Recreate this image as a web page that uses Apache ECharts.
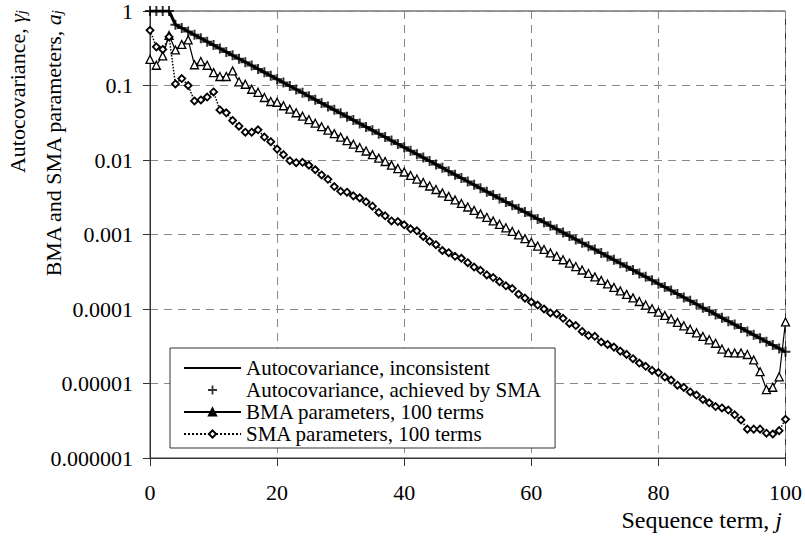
<!DOCTYPE html>
<html>
<head>
<meta charset="utf-8">
<script src="https://cdn.jsdelivr.net/npm/echarts@6/dist/echarts.min.js"></script>
<style>
  html, body { margin: 0; padding: 0; background: #fff; }
  #chart { width: 805px; height: 539px; }
</style>
</head>
<body>
<div id="chart"></div>
<script>
// Sequence terms j = 0..100
const terms = Array.from({ length: 101 }, (_, j) => j);

// Autocovariance (inconsistent target), gamma_j
const acvTarget = [
  1, 1, 1, 1, 0.6561, 0.5905, 0.5314, 0.4783, 0.4305, 0.3874,
  0.3487, 0.3138, 0.2824, 0.2542, 0.2288, 0.2059, 0.1853, 0.1668, 0.1501, 0.1351,
  0.1216, 0.1094, 0.0985, 0.0886, 0.0798, 0.0718, 0.0646, 0.0581, 0.0523, 0.0471,
  0.0424, 0.0382, 0.0343, 0.0309, 0.0278, 0.0250, 0.0225, 0.0203, 0.0182, 0.0164,
  0.01478, 0.01330, 0.01197, 0.01078, 0.00970, 0.00873, 0.00786, 0.00707, 0.00636, 0.00573,
  0.00515, 0.00464, 0.00417, 0.00376, 0.00338, 0.00304, 0.00274, 0.00247, 0.00222, 0.00200,
  0.00180, 0.00162, 0.00146, 0.00131, 0.00118, 0.00106, 0.000955, 0.000860, 0.000774, 0.000696,
  0.000627, 0.000564, 0.000508, 0.000457, 0.000411, 0.000370, 0.000333, 0.000300, 0.000270, 0.000243,
  0.000218, 0.000197, 0.000177, 0.000159, 0.000143, 0.000129, 0.000116, 0.000104, 0.0000940, 0.0000846,
  0.0000761, 0.0000685, 0.0000617, 0.0000555, 0.0000500, 0.0000450, 0.0000405, 0.0000364, 0.0000328, 0.0000295,
  0.0000266
];

// Autocovariance achieved by SMA (coincides with the target at this scale)
const acvSma = acvTarget;

// BMA parameters, 100 terms
const bmaParams = [
  0.224, 0.187, 0.25, 0.47, 0.30, 0.356, 0.41, 0.19, 0.21, 0.187,
  0.149, 0.132, 0.132, 0.157, 0.112, 0.104, 0.089, 0.081, 0.069, 0.061,
  0.0596, 0.0535, 0.0481, 0.0431, 0.0387, 0.0348, 0.0312, 0.0280, 0.0252, 0.0226,
  0.0203, 0.0182, 0.0163, 0.0147, 0.0132, 0.0118, 0.0106, 0.00954, 0.00854, 0.00768,
  0.00690, 0.00620, 0.00555, 0.00499, 0.00448, 0.00402, 0.00362, 0.00325, 0.00291, 0.00261,
  0.00234, 0.00211, 0.00189, 0.00170, 0.00152, 0.00137, 0.00123, 0.00110, 0.000990, 0.000880,
  0.000785, 0.000700, 0.000630, 0.000566, 0.000510, 0.000458, 0.000413, 0.000371, 0.000334, 0.000300,
  0.000270, 0.000242, 0.000217, 0.000195, 0.000175, 0.000157, 0.000141, 0.000126, 0.000113, 0.000101,
  0.0000910, 0.0000822, 0.0000738, 0.0000662, 0.0000595, 0.0000534, 0.0000479, 0.0000428, 0.0000386, 0.0000347,
  0.0000290, 0.0000260, 0.0000257, 0.0000257, 0.0000245, 0.0000207, 0.0000144, 0.0000083, 0.0000089, 0.0000123,
  0.0000670
];

// SMA parameters, 100 terms
const smaParams = [
  0.55, 0.33, 0.305, 0.45, 0.105, 0.124, 0.10, 0.062, 0.064, 0.07,
  0.082, 0.047, 0.043, 0.034, 0.0284, 0.0236, 0.0236, 0.0254, 0.0203, 0.0176,
  0.014, 0.0118, 0.0098, 0.0092, 0.0093, 0.0085, 0.0074, 0.0063, 0.0055, 0.0044,
  0.0038, 0.0037, 0.0033, 0.0031, 0.00275, 0.0024, 0.00198, 0.00178, 0.00152, 0.00149,
  0.00135, 0.00119, 0.00112, 0.00094, 0.00081, 0.00073, 0.00061, 0.00057, 0.00051, 0.00048,
  0.000418, 0.000366, 0.000331, 0.000287, 0.000264, 0.000233, 0.000205, 0.000188, 0.000158, 0.000140,
  0.000124, 0.000113, 0.000100, 0.0000885, 0.0000860, 0.0000750, 0.0000640, 0.0000600, 0.0000500, 0.0000440,
  0.0000430, 0.0000360, 0.0000334, 0.0000308, 0.0000272, 0.0000246, 0.0000215, 0.0000188, 0.0000170, 0.0000150,
  0.0000140, 0.0000122, 0.0000111, 0.0000095, 0.00000885, 0.0000077, 0.0000070, 0.0000061, 0.0000055, 0.0000049,
  0.0000047, 0.0000044, 0.0000038, 0.00000324, 0.00000244, 0.00000244, 0.00000244, 0.00000215, 0.0000021, 0.00000233,
  0.0000033
];

const yTickLabels = ['0.000001', '0.00001', '0.0001', '0.001', '0.01', '0.1', '1'];
const seriesNames = [
  'Autocovariance, inconsistent',
  'Autocovariance, achieved by SMA',
  'BMA parameters, 100 terms',
  'SMA parameters, 100 terms'
];

const font = 'Liberation Serif';
const pair = arr => terms.map(j => [j, arr[j]]);
const plusPath = 'path://M4,0h2v4h4v2h-4v4h-2v-4h-4v-2h4z';

const option = {
  animation: false,
  backgroundColor: '#fff',
  grid: {
    left: 150, right: 18, top: 8, bottom: 81,
    show: true, borderColor: '#333', borderWidth: 1
  },
  xAxis: {
    type: 'value',
    min: 0, max: 100, interval: 20,
    axisLine: { show: true, lineStyle: { color: '#333', width: 1 } },
    axisTick: { show: true, length: 8, lineStyle: { color: '#333' } },
    axisLabel: { margin: 23, fontFamily: font, fontSize: 22, color: '#000' },
    splitLine: { show: true, lineStyle: { color: '#888', type: [8, 6], width: 1 } }
  },
  yAxis: {
    type: 'log',
    logBase: 10,
    min: 1e-6, max: 1, splitNumber: 6,
    axisLine: { show: true, lineStyle: { color: '#333', width: 1 } },
    axisTick: { show: true, length: 7, lineStyle: { color: '#333' } },
    axisLabel: {
      margin: 17, fontFamily: font, fontSize: 22, color: '#000',
      formatter: v => yTickLabels[Math.round(Math.log10(v)) + 6]
    },
    splitLine: { show: true, lineStyle: { color: '#888', type: [8, 6], width: 1 } },
    minorTick: { show: false }
  },
  legend: {
    orient: 'vertical',
    left: 170, top: 348,
    backgroundColor: '#fff',
    borderColor: '#333', borderWidth: 1,
    padding: [9, 14, 3, 13],
    itemWidth: 57, itemHeight: 9, itemGap: 0,
    textStyle: { fontFamily: font, fontSize: 21, color: '#000', lineHeight: 22 },
    data: [
      { name: seriesNames[0], itemStyle: { opacity: 0 } },
      { name: seriesNames[1] },
      { name: seriesNames[2], itemStyle: { color: '#000' } },
      { name: seriesNames[3] }
    ]
  },
  series: [
    {
      name: seriesNames[0],
      type: 'line',
      data: pair(acvTarget),
      symbol: 'none',
      lineStyle: { color: '#000', width: 3 },
      itemStyle: { color: '#000' },
      z: 3
    },
    {
      name: seriesNames[1],
      type: 'scatter',
      data: pair(acvSma),
      symbol: plusPath,
      symbolSize: 10,
      itemStyle: { color: '#000' },
      z: 4
    },
    {
      name: seriesNames[2],
      type: 'line',
      data: pair(bmaParams),
      symbol: 'triangle',
      symbolSize: 8,
      lineStyle: { color: '#000', width: 1.2 },
      itemStyle: { color: '#fff', borderColor: '#000', borderWidth: 1.3 },
      z: 2
    },
    {
      name: seriesNames[3],
      type: 'line',
      data: pair(smaParams),
      symbol: 'diamond',
      symbolSize: 7,
      lineStyle: { color: '#000', width: 1.5, type: 'dotted' },
      itemStyle: { color: '#fff', borderColor: '#000', borderWidth: 1.8 },
      z: 2
    }
  ],
  graphic: [
    {
      type: 'text',
      x: 17, y: 10, rotation: Math.PI / 2,
      style: {
        text: 'Autocovariance, {g|γ}{s|j}',
        fontFamily: font, fontSize: 22, fill: '#000',
        align: 'right', verticalAlign: 'middle',
        rich: {
          g: { fontFamily: font, fontSize: 22, fontStyle: 'italic', fill: '#000' },
          s: { fontFamily: font, fontSize: 15, fontStyle: 'italic', fill: '#000', padding: [8, 0, 0, 0] }
        }
      }
    },
    {
      type: 'text',
      x: 53, y: 10, rotation: Math.PI / 2,
      style: {
        text: 'BMA and SMA parameters, {g|a}{s|j}',
        fontFamily: font, fontSize: 22, fill: '#000',
        align: 'right', verticalAlign: 'middle',
        rich: {
          g: { fontFamily: font, fontSize: 22, fontStyle: 'italic', fill: '#000' },
          s: { fontFamily: font, fontSize: 15, fontStyle: 'italic', fill: '#000', padding: [8, 0, 0, 0] }
        }
      }
    },
    {
      type: 'text',
      x: 782, y: 520,
      style: {
        text: 'Sequence term, {g|j}',
        fontFamily: font, fontSize: 24, fill: '#000',
        align: 'right', verticalAlign: 'middle',
        rich: {
          g: { fontFamily: font, fontSize: 24, fontStyle: 'italic', fill: '#000' }
        }
      }
    }
  ]
};

const myChart = echarts.init(document.getElementById('chart'), null, { renderer: 'svg' });
myChart.setOption(option);
</script>
</body>
</html>
